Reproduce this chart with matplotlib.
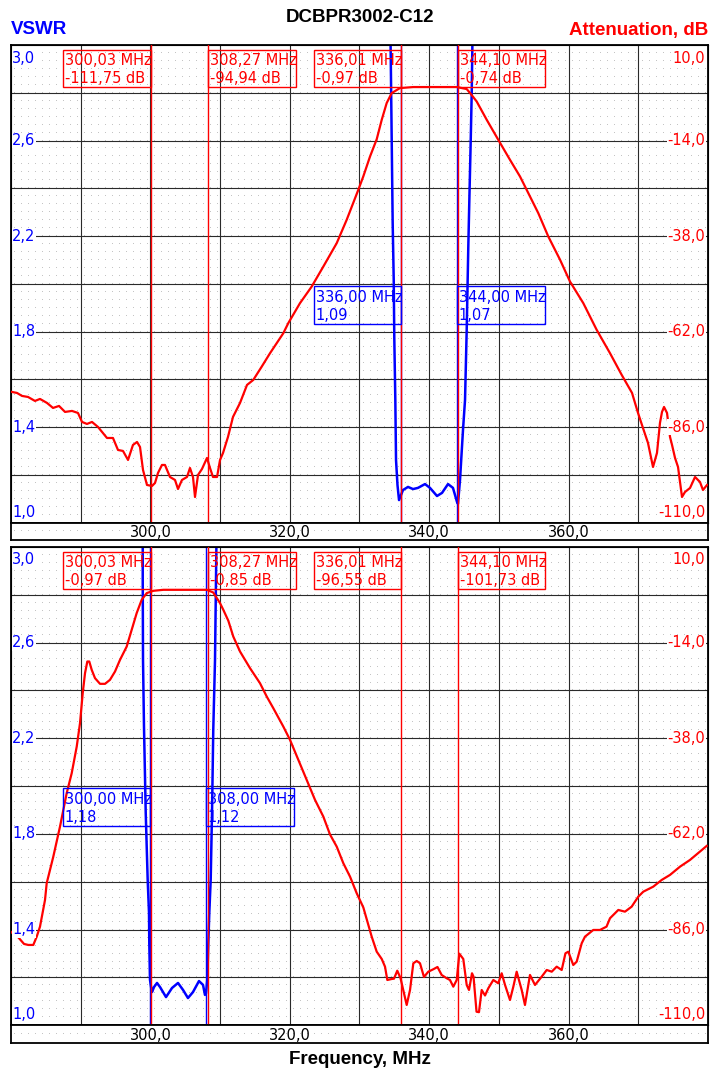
import matplotlib
matplotlib.use('Agg')
import matplotlib.pyplot as plt
import numpy as np
from matplotlib.transforms import blended_transform_factory

W, H = 720, 1081
RED = '#ff0000'
BLUE = '#0000ff'

# ---------------- data ----------------
# top panel: filter 336..344 MHz
top_vswr_f = [334.45, 334.52, 334.62, 334.76, 334.91, 334.99, 335.14, 335.24, 335.45, 335.67,
              336.24, 336.96, 337.68, 338.39, 339.40, 340.11, 341.12, 341.84, 342.70, 343.41,
              343.99, 344.13, 344.42, 344.85, 345.14, 345.38, 345.61, 345.75, 345.95, 346.10, 346.21]
top_vswr = [3.03, 2.855, 2.603, 2.255, 2.016, 1.777, 1.513, 1.262, 1.157, 1.094,
            1.136, 1.149, 1.140, 1.145, 1.161, 1.145, 1.111, 1.124, 1.161, 1.145,
            1.086, 1.078, 1.178, 1.388, 1.513, 1.807, 2.155, 2.339, 2.591, 2.80, 3.03]

top_att_f = [280.14, 280.86, 281.58, 282.44, 283.44, 284.16, 285.16, 286.03, 286.89, 287.75,
             288.75, 289.61, 290.19, 290.90, 291.62, 292.48, 293.77, 294.63, 295.35, 296.07,
             296.79, 297.50, 298.08, 298.51, 298.94, 299.51, 300.23, 300.66, 301.09, 301.66,
             302.09, 302.81, 303.53, 303.96, 304.53, 305.25, 305.68, 306.11, 306.40, 306.83,
             307.40, 308.12, 308.55, 308.98, 309.56, 309.99, 310.42, 311.13, 311.85, 312.86,
             313.86, 314.76, 315.97, 317.16, 319.07, 319.78, 321.46, 323.14, 324.81, 326.73,
             328.16, 329.83, 330.54, 331.51, 332.47, 333.19, 333.90, 334.62, 335.81, 337.72,
             343.95, 345.38, 345.87, 346.81, 348.25, 349.91, 351.59, 353.03, 354.22, 355.65,
             357.09, 358.77, 360.20, 362.11, 364.03, 365.94, 367.62, 369.10, 369.96, 370.67,
             371.39, 372.11, 372.68, 373.11, 373.40, 373.69, 374.12, 374.55, 374.84, 375.27,
             375.70, 376.27, 376.70, 377.42, 378.14, 378.85, 379.28, 379.86]
top_att = [-77.19, -77.44, -78.19, -78.45, -79.45, -78.95, -79.95, -81.21, -80.71, -82.21,
           -81.96, -82.47, -84.73, -85.23, -84.73, -85.99, -88.76, -88.76, -91.77, -92.02,
           -94.28, -90.51, -89.76, -91.02, -96.80, -100.57, -100.82, -100.07, -97.55, -95.54,
           -95.54, -98.56, -99.31, -101.58, -99.31, -98.56, -96.30, -98.56, -103.59, -98.06,
           -96.55, -93.78, -96.30, -98.56, -98.56, -94.28, -92.52, -88.50, -83.47, -79.95,
           -75.43, -74.17, -70.83, -67.46, -62.43, -59.91, -54.88, -50.71, -45.68, -39.80,
           -33.94, -26.39, -23.05, -18.02, -13.68, -8.79, -4.59, -2.08, -0.82, -0.57,
           -0.57, -1.07, -2.08, -4.19, -8.79, -13.82, -18.85, -23.05, -27.22, -32.25,
           -38.14, -43.96, -49.45, -54.88, -61.59, -67.45, -72.91, -77.44, -82.47, -86.24,
           -90.01, -96.05, -92.52, -84.98, -82.22, -80.96, -82.47, -88.50, -90.51, -93.78,
           -96.05, -103.59, -102.33, -101.33, -98.56, -99.82, -101.83, -100.57]

# bottom panel: filter 300..308 MHz
bot_vswr_f = [298.90, 298.90, 298.94, 299.08, 299.33, 299.47, 299.61, 299.80, 299.84, 299.94,
              300.16, 300.23, 300.52, 300.95, 301.38, 302.24, 303.10, 303.96, 304.68, 305.39,
              306.11, 306.97, 307.55, 307.83, 307.98, 308.16, 308.31, 308.45, 308.65, 308.84,
              309.02, 309.27, 309.41, 309.48]
bot_vswr = [3.03, 2.863, 2.528, 2.249, 1.888, 1.747, 1.608, 1.470, 1.344, 1.190,
            1.148, 1.139, 1.160, 1.177, 1.160, 1.118, 1.156, 1.177, 1.148, 1.114,
            1.139, 1.185, 1.169, 1.127, 1.134, 1.190, 1.344, 1.470, 1.608, 1.888,
            2.236, 2.528, 2.863, 3.03]

bot_att_f = [280.0, 281.0, 281.87, 282.48, 283.20, 283.69, 284.16, 284.88, 285.12, 286.07,
             287.03, 287.99, 288.71, 289.43, 289.90, 290.29, 290.62, 290.95, 291.23, 291.58,
             292.05, 292.77, 293.49, 294.20, 294.92, 295.64, 296.60, 297.32, 298.03, 298.75,
             299.47, 300.42, 301.85, 308.08, 309.02, 309.99, 310.46, 311.18, 311.89, 312.86,
             314.29, 315.72, 316.69, 317.63, 319.07, 320.03, 321.22, 322.42, 323.62, 324.81,
             325.77, 326.73, 327.68, 328.64, 329.60, 330.55, 331.26, 331.75, 332.47, 333.19,
             333.66, 333.99, 334.62, 334.95, 335.42, 335.88, 336.28, 336.77, 337.25, 337.72,
             338.21, 338.68, 339.25, 339.87, 340.59, 341.19, 341.79, 342.51, 342.98, 343.46,
             343.95, 344.32, 344.89, 345.38, 345.71, 346.14, 346.36, 346.79, 347.14, 347.53,
             348.01, 348.48, 349.20, 349.91, 350.40, 350.88, 351.59, 352.07, 352.55, 353.27,
             353.74, 354.46, 355.18, 356.14, 356.86, 357.58, 358.29, 359.01, 359.55, 359.96,
             360.67, 361.16, 361.88, 362.35, 363.54, 364.50, 365.44, 365.94, 367.13, 368.09,
             369.05, 370.00, 370.72, 372.15, 373.36, 374.55, 375.99, 377.42, 378.85, 379.81]
bot_att = [-86.58, -87.84, -89.59, -89.84, -89.84, -87.76, -85.25, -78.55, -74.36, -67.68,
           -60.15, -51.77, -46.75, -40.07, -34.20, -26.67, -21.65, -18.73, -18.73, -20.82,
           -22.90, -24.33, -24.33, -23.33, -21.25, -18.31, -14.97, -10.78, -6.59, -3.25,
           -1.57, -0.99, -0.74, -0.74, -1.42, -4.08, -5.76, -8.50, -12.46, -16.23,
           -20.39, -24.16, -27.52, -30.43, -35.05, -38.39, -43.39, -48.41, -53.45, -57.64,
           -62.13, -65.17, -69.34, -72.70, -76.87, -80.43, -84.82, -87.76, -91.53, -93.36,
           -95.29, -98.63, -98.38, -98.30, -96.30, -98.13, -101.14, -104.90, -101.14, -94.44,
           -93.86, -94.44, -97.88, -96.55, -95.94, -95.37, -97.38, -98.20, -98.63, -100.31,
           -98.63, -92.03, -93.36, -99.88, -101.14, -96.95, -97.80, -106.59, -106.71, -101.14,
           -102.52, -100.71, -98.63, -99.46, -96.95, -99.88, -103.65, -100.31, -96.55, -101.14,
           -104.90, -97.37, -99.88, -97.80, -96.12, -96.55, -95.29, -96.12, -91.93, -91.53,
           -94.87, -94.04, -89.42, -87.76, -86.08, -86.08, -85.25, -83.14, -81.06, -81.49,
           -80.23, -77.72, -76.47, -75.21, -73.53, -72.27, -70.19, -68.51, -66.43, -65.00]

# markers
red_marker_f = [300.03, 308.27, 336.01, 344.10]
red_marker_side = ['left', 'right', 'left', 'right']
top_red_marker_txt = ['-111,75 dB', '-94,94 dB', '-0,97 dB', '-0,74 dB']
bot_red_marker_txt = ['-0,97 dB', '-0,85 dB', '-96,55 dB', '-101,73 dB']
top_blue_marker_f = [336.00, 344.00]
top_blue_marker_txt = ['1,09', '1,07']
bot_blue_marker_f = [300.00, 308.00]
bot_blue_marker_txt = ['1,18', '1,12']
blue_marker_side = ['left', 'right']

vswr_ticks = [1.0, 1.4, 1.8, 2.2, 2.6, 3.0]
vswr_ticklabels = ['1,0', '1,4', '1,8', '2,2', '2,6', '3,0']
att_ticks = [-110, -86, -62, -38, -14, 10]
att_ticklabels = ['-110,0', '-86,0', '-62,0', '-38,0', '-14,0', '10,0']
freq_ticks = [300, 320, 340, 360]
freq_ticklabels = ['300,0', '320,0', '340,0', '360,0']

FMIN, FMAX = 280.0, 380.0
TICKFS = 10.5


def frac(x0, y0, x1, y1):
    # pixel box (top-left origin) -> figure fraction rect
    return [x0 / W, 1 - y1 / H, (x1 - x0) / W, (y1 - y0) / H]


def dots(ax, ylo, yhi, ny):
    xs = np.arange(FMIN + 0.5, FMAX, 1.0)
    ys = np.linspace(ylo, yhi, ny + 1)[1:-1]
    X, Y = np.meshgrid(xs, ys)
    ax.plot(X.ravel(), Y.ravel(), ',', color='#c4c4c4', zorder=0.5)


def mhz(f):
    return '{0:.2f} MHz'.format(f).replace('.', ',')


def marker_box(ax, f, side, line2, color, ytop, ybot):
    tr = blended_transform_factory(ax.transData, ax.transAxes)
    bw = 12.55
    x0 = f - bw if side == 'left' else f
    ax.add_patch(plt.Rectangle((x0, ybot), bw, ytop - ybot, transform=tr, fill=False,
                               edgecolor=color, lw=1.0, zorder=6, clip_on=False))
    h = ytop - ybot
    ax.text(x0 + 0.25, ytop - 0.29 * h, mhz(f), transform=tr, color=color,
            fontsize=TICKFS, ha='left', va='center', zorder=6)
    ax.text(x0 + 0.25, ytop - 0.76 * h, line2, transform=tr, color=color,
            fontsize=TICKFS, ha='left', va='center', zorder=6)


def draw_panel(top_px, bot_px, strip_px, vf, vv, af, aa, red_txt, blue_f, blue_txt):
    ax = fig.add_axes(frac(11, top_px, 708, bot_px))
    ax.set_xlim(FMIN, FMAX)
    ax.set_ylim(1.0, 3.0)
    ax.set_xticks(np.arange(290, 380, 10))
    ax.set_yticks(np.arange(1.2, 2.9, 0.2))
    ax.tick_params(length=0, labelleft=False, labelbottom=False)
    ax.grid(True, color='#2a2a2a', lw=0.8, zorder=1)
    ax.set_axisbelow(True)
    dots(ax, 1.0, 3.0, 60)
    for s in ax.spines.values():
        s.set_linewidth(1.3)

    ax2 = ax.twinx()
    ax2.set_ylim(-110, 10)
    ax2.set_yticks([])
    ax2.set_xlim(FMIN, FMAX)

    ax.plot(vf, vv, color=BLUE, lw=1.8, zorder=4)
    ax2.plot(af, aa, color=RED, lw=1.6, zorder=3)

    for f in blue_f:
        ax.axvline(f, color=BLUE, lw=1.0, zorder=3)
    for f in red_marker_f:
        ax2.axvline(f, color=RED, lw=1.0, zorder=5)

    hpx = bot_px - top_px
    rt, rb = 1 - 4.7 / hpx, 1 - 42.3 / hpx
    for f, side, t in zip(red_marker_f, red_marker_side, red_txt):
        marker_box(ax2, f, side, t, RED, rt, rb)
    bt, bb = 1 - 241.0 / hpx, 1 - 279.3 / hpx
    for f, side, t in zip(blue_f, blue_marker_side, blue_txt):
        marker_box(ax2, f, side, t, BLUE, bt, bb)

    # axis labels inside the plot
    unit_v = 2.0 / hpx
    for v, lab in zip(vswr_ticks, vswr_ticklabels):
        y = v
        if v == 3.0:
            y = 3.0 - 13 * unit_v
        elif v == 1.0:
            y = 1.0 + 10.5 * unit_v
        ax2.text(0.0015, (y - 1.0) / 2.0, lab, transform=ax2.transAxes, color=BLUE,
                 fontsize=TICKFS, ha='left', va='center', zorder=7,
                 bbox=dict(facecolor='white', edgecolor='none', pad=0.3))
    unit_a = 120.0 / hpx
    for a, lab in zip(att_ticks, att_ticklabels):
        y = a
        if a == 10:
            y = 10 - 13 * unit_a
        elif a == -110:
            y = -110 + 10.5 * unit_a
        ax2.text(0.996, (y + 110) / 120.0, lab, transform=ax2.transAxes, color=RED,
                 fontsize=TICKFS, ha='right', va='center', zorder=7,
                 bbox=dict(facecolor='white', edgecolor='none', pad=0.3))

    # frequency strip below the plot
    sx = fig.add_axes(frac(11, bot_px, 708, strip_px))
    sx.set_xlim(FMIN, FMAX)
    sx.set_ylim(0, 1)
    sx.set_xticks([])
    sx.set_yticks([])
    dots(sx, 0, 1, 2)
    for s in sx.spines.values():
        s.set_linewidth(1.3)
    for f, lab in zip(freq_ticks, freq_ticklabels):
        sx.text(f, 0.45, lab, color='black', fontsize=TICKFS, ha='center', va='center')
    return ax


fig = plt.figure(figsize=(W / 100, H / 100), dpi=100, facecolor='white')

draw_panel(45, 522.5, 540, top_vswr_f, top_vswr, top_att_f, top_att,
           top_red_marker_txt, top_blue_marker_f, top_blue_marker_txt)
draw_panel(547, 1025.3, 1043, bot_vswr_f, bot_vswr, bot_att_f, bot_att,
           bot_red_marker_txt, bot_blue_marker_f, bot_blue_marker_txt)

bold = dict(family=['Liberation Sans', 'DejaVu Sans'], fontweight='bold', fontsize=13.5)
fig.text(0.5, 1 - 17 / H, 'DCBPR3002-C12', ha='center', va='center', color='black', **bold)
fig.text(11 / W, 1 - 30 / H, 'VSWR', ha='left', va='center', color=BLUE, **bold)
fig.text(708 / W, 1 - 30 / H, 'Attenuation, dB', ha='right', va='center', color=RED, **bold)
fig.text(0.5, 1 - 1060 / H, 'Frequency, MHz', ha='center', va='center', color='black', **bold)

fig.savefig('out.png', dpi=100, facecolor='white')
